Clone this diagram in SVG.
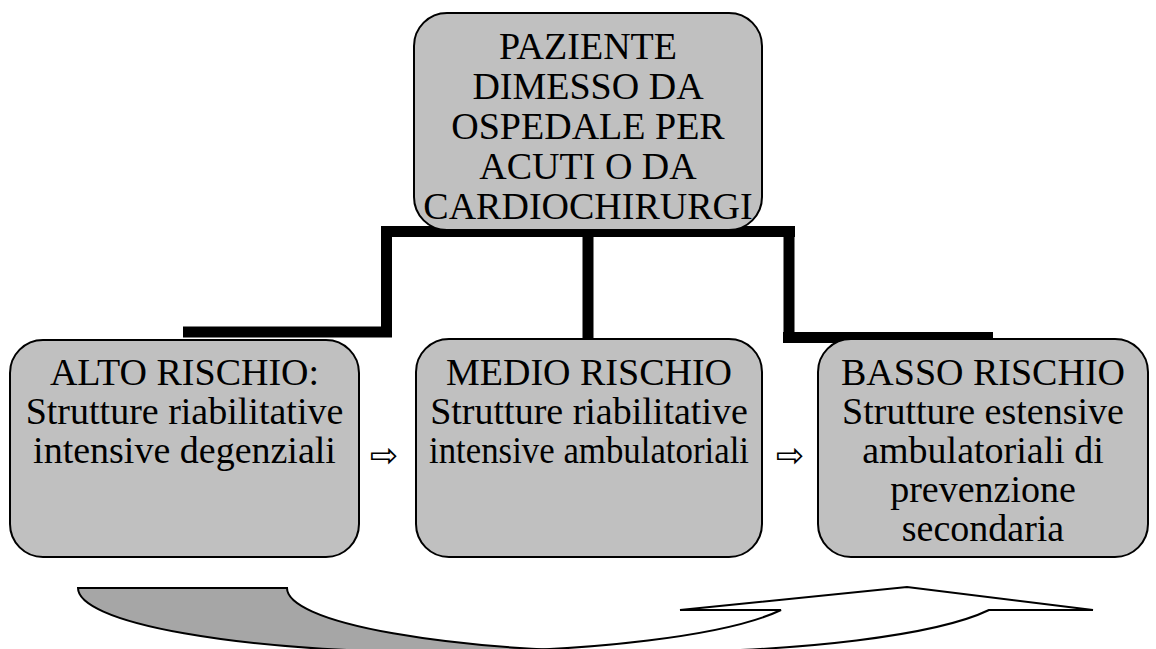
<svg xmlns="http://www.w3.org/2000/svg" width="1156" height="649" viewBox="0 0 1156 649">
<style>
.box{fill:#c0c0c0;stroke:#000;stroke-width:2}
.t{font-family:"Liberation Serif","Times New Roman",serif;font-size:38px;fill:#000;text-anchor:middle}
.conn{stroke:#000;stroke-width:11;fill:none;stroke-linecap:butt}
.arr{font-family:"DejaVu Sans",sans-serif;font-size:34px;fill:#000;text-anchor:middle}
.band{stroke:#000;stroke-width:2;stroke-linejoin:miter}
</style>
<rect width="1156" height="649" fill="#fff"/>
<g id="connectors">
<path class="conn" d="M381,231.5 H795"/>
<path class="conn" d="M386.5,226 V337 M392,332 H183"/>
<path class="conn" d="M588,226 V340"/>
<path class="conn" d="M789,226 V343 M783,337.5 H993"/>
</g>
<g id="node-top">
<rect class="box" x="414" y="13" width="348" height="217" rx="33"/>
<text class="t" x="588" y="59">PAZIENTE</text>
<text class="t" x="588" y="99">DIMESSO DA</text>
<text class="t" x="588" y="139">OSPEDALE PER</text>
<text class="t" x="588" y="179">ACUTI O DA</text>
<text class="t" x="588" y="219">CARDIOCHIRURGI</text>
</g>
<g id="node-alto">
<rect class="box" x="10" y="340" width="349" height="217" rx="33"/>
<text class="t" x="184.5" y="385">ALTO RISCHIO:</text>
<text class="t" x="184.5" y="424">Strutture riabilitative</text>
<text class="t" x="184.5" y="463">intensive degenziali</text>
</g>
<g id="node-medio">
<rect class="box" x="416" y="339" width="346" height="218" rx="33"/>
<text class="t" x="589" y="385">MEDIO RISCHIO</text>
<text class="t" x="589" y="424">Strutture riabilitative</text>
<text class="t" x="589" y="463" textLength="320" lengthAdjust="spacingAndGlyphs">intensive ambulatoriali</text>
</g>
<g id="node-basso">
<rect class="box" x="818" y="339" width="330" height="218" rx="33"/>
<text class="t" x="983" y="385">BASSO RISCHIO</text>
<text class="t" x="983" y="424">Strutture estensive</text>
<text class="t" x="983" y="463">ambulatoriali di</text>
<text class="t" x="983" y="502">prevenzione</text>
<text class="t" x="983" y="541">secondaria</text>
</g>
<g id="flow-arrows">
<text class="arr" x="384" y="467">⇨</text>
<text class="arr" x="790" y="467">⇨</text>
</g>
<g id="curved-arrow">
<path class="band" fill="#a6a6a6" d="M78,588 L287,588 A362,64 0 0 0 649,652 L440,652 A362,64 0 0 1 78,588 Z"/>
<path class="band" fill="#fff" d="M440,652 A362,64 0 0 0 781,610 L680,610 L907,587 L1093,610 L989,610 A362,64 0 0 1 649,652 Z"/>
</g>
</svg>
